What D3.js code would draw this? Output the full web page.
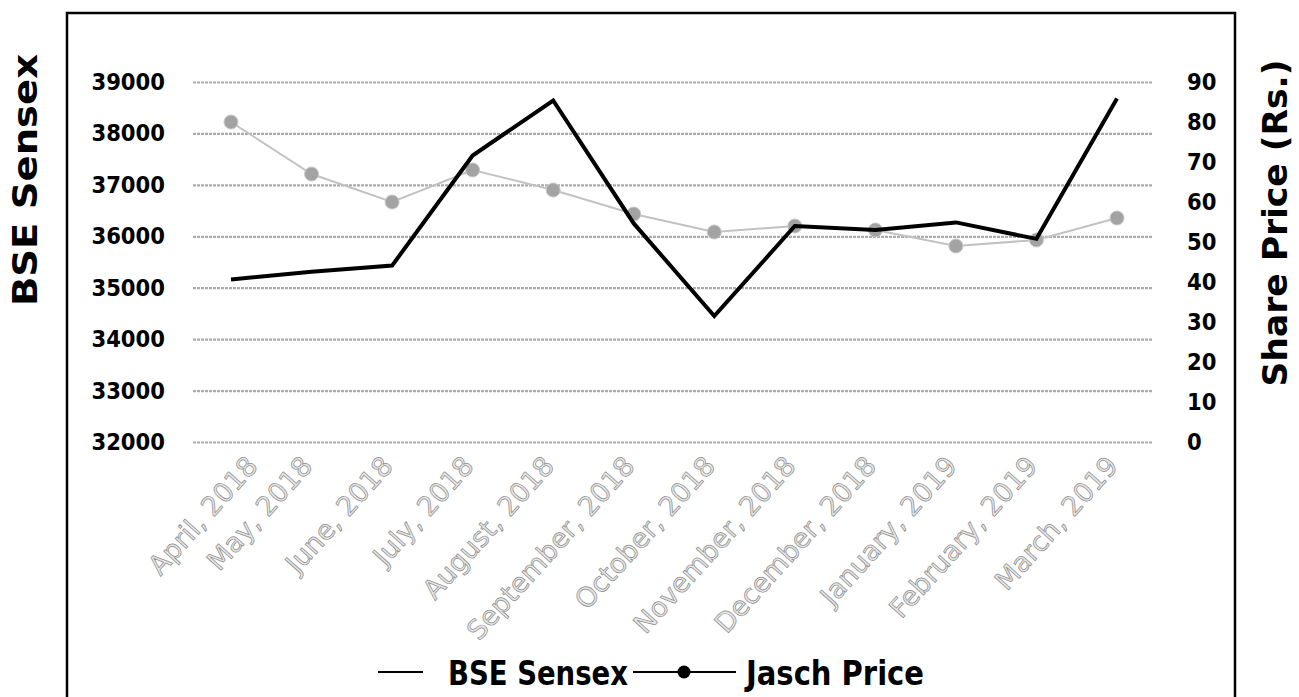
<!DOCTYPE html>
<html lang="en">
<head>
  <meta charset="UTF-8">
  <title>BSE Sensex vs Jasch Price</title>
  <script src="https://d3js.org/d3.v7.min.js"></script>
  <style>
    body { margin: 0; background: #fff; }
    svg { display: block; }
    .bold { font-family: "DejaVu Sans Condensed", "DejaVu Sans", sans-serif; font-weight: bold; }
  </style>
</head>
<body>
<svg width="1299" height="697"></svg>
<script>
  const months = ["April, 2018", "May, 2018", "June, 2018", "July, 2018", "August, 2018",
    "September, 2018", "October, 2018", "November, 2018", "December, 2018",
    "January, 2019", "February, 2019", "March, 2019"];
  const bseSensex = [35160, 35310, 35430, 37570, 38640, 36250, 34450, 36200, 36120, 36270, 35950, 38680];
  const jaschPrice = [80, 67, 60, 68, 63, 57, 52.5, 54, 53, 49, 50.5, 56];
  const leftTicks = [32000, 33000, 34000, 35000, 36000, 37000, 38000, 39000];
  const rightTicks = [0, 10, 20, 30, 40, 50, 60, 70, 80, 90];

  const svg = d3.select("svg");
  const plot = {left: 193, right: 1152, top: 82, bottom: 442};

  // cadre
  svg.append("path")
    .attr("d", "M67,697 L67,13 L1235,13 L1235,697")
    .attr("fill", "none").attr("stroke", "#000").attr("stroke-width", 2.5);

  const x = d3.scalePoint().domain(months).range([231, 1117]);
  const yL = d3.scaleLinear().domain([32000, 39000]).range([plot.bottom, plot.top]);
  const yR = d3.scaleLinear().domain([0, 90]).range([plot.bottom, plot.top]);

  // grille
  svg.append("g")
    .attr("transform", `translate(${plot.left},0)`)
    .call(d3.axisLeft(yL).tickValues(leftTicks).tickSize(-(plot.right - plot.left)).tickFormat(""))
    .call(g => g.select(".domain").remove())
    .call(g => g.selectAll("line").attr("stroke", "#ababab").attr("stroke-width", 2.2).attr("stroke-dasharray", "3,1"));

  // axe gauche
  svg.append("g")
    .attr("transform", `translate(${plot.left},0)`)
    .call(d3.axisLeft(yL).tickValues(leftTicks).tickSize(0).tickPadding(28).tickFormat(d3.format("d")))
    .call(g => g.select(".domain").remove())
    .call(g => g.selectAll("text").attr("class", "bold").attr("font-size", 23.5).attr("fill", "#000"));

  // axe droit
  svg.append("g")
    .attr("transform", `translate(${plot.right},0)`)
    .call(d3.axisRight(yR).tickValues(rightTicks).tickSize(0).tickPadding(35))
    .call(g => g.select(".domain").remove())
    .call(g => g.selectAll("text").attr("class", "bold").attr("font-size", 23.5).attr("fill", "#000"));

  // axe des mois
  const xAxis = svg.append("g")
    .attr("transform", `translate(0,${plot.bottom})`)
    .call(d3.axisBottom(x).tickSize(0))
    .call(g => g.select(".domain").remove());
  xAxis.selectAll("text")
    .attr("x", 0).attr("y", 0).attr("dy", 0)
    .attr("text-anchor", "end")
    .attr("transform", "translate(2,25) rotate(-48)")
    .attr("font-family", "'DejaVu Sans', sans-serif")
    .attr("font-size", 27)
    .attr("fill", "#e6e6e6")
    .attr("stroke", "#8c8c8c")
    .attr("stroke-width", 0.7);
  // décaler les libellés qui sortent à gauche
  xAxis.selectAll(".tick").each(function() {
    const b = this.getBoundingClientRect();
    if (b.left < 142) {
      const t = d3.select(this).attr("transform");
      const tx = +t.match(/translate\(([-\d.]+)/)[1] + (142 - b.left);
      d3.select(this).attr("transform", `translate(${tx},0)`);
    }
  });

  // Jasch Price (axe droit)
  svg.append("path")
    .datum(jaschPrice)
    .attr("fill", "none")
    .attr("stroke", "#c2c2c2")
    .attr("stroke-width", 2)
    .attr("d", d3.line().x((d, i) => x(months[i])).y(d => yR(d)));
  svg.selectAll("circle.jasch")
    .data(jaschPrice)
    .join("circle")
      .attr("class", "jasch")
      .attr("cx", (d, i) => x(months[i]))
      .attr("cy", d => yR(d))
      .attr("r", 7)
      .attr("fill", "#a3a3a3")
      .attr("stroke", "#c8c8c8")
      .attr("stroke-width", 1);

  // BSE Sensex (axe gauche)
  svg.append("path")
    .datum(bseSensex)
    .attr("fill", "none")
    .attr("stroke", "#000")
    .attr("stroke-width", 4)
    .attr("stroke-linejoin", "miter")
    .attr("d", d3.line().x((d, i) => x(months[i])).y(d => yL(d)));

  // titres des axes
  svg.append("text")
    .attr("class", "bold")
    .attr("transform", "translate(37,180) rotate(-90)")
    .attr("text-anchor", "middle")
    .attr("font-size", 33)
    .attr("textLength", 252).attr("lengthAdjust", "spacingAndGlyphs")
    .text("BSE Sensex");
  svg.append("text")
    .attr("class", "bold")
    .attr("transform", "translate(1287,223) rotate(-90)")
    .attr("text-anchor", "middle")
    .attr("font-size", 33)
    .attr("textLength", 327).attr("lengthAdjust", "spacingAndGlyphs")
    .text("Share Price (Rs.)");

  // légende
  const legend = svg.append("g");
  legend.append("line").attr("x1", 378).attr("x2", 423).attr("y1", 672).attr("y2", 672)
    .attr("stroke", "#000").attr("stroke-width", 2);
  legend.append("text").attr("class", "bold").attr("x", 448).attr("y", 685)
    .attr("font-size", 33).attr("textLength", 180).attr("lengthAdjust", "spacingAndGlyphs")
    .text("BSE Sensex");
  legend.append("line").attr("x1", 633).attr("x2", 736).attr("y1", 672).attr("y2", 672)
    .attr("stroke", "#000").attr("stroke-width", 2);
  legend.append("circle").attr("cx", 684).attr("cy", 672).attr("r", 6.5).attr("fill", "#000");
  legend.append("text").attr("class", "bold").attr("x", 746).attr("y", 685)
    .attr("font-size", 33).attr("textLength", 178).attr("lengthAdjust", "spacingAndGlyphs")
    .text("Jasch Price");
</script>
</body>
</html>
